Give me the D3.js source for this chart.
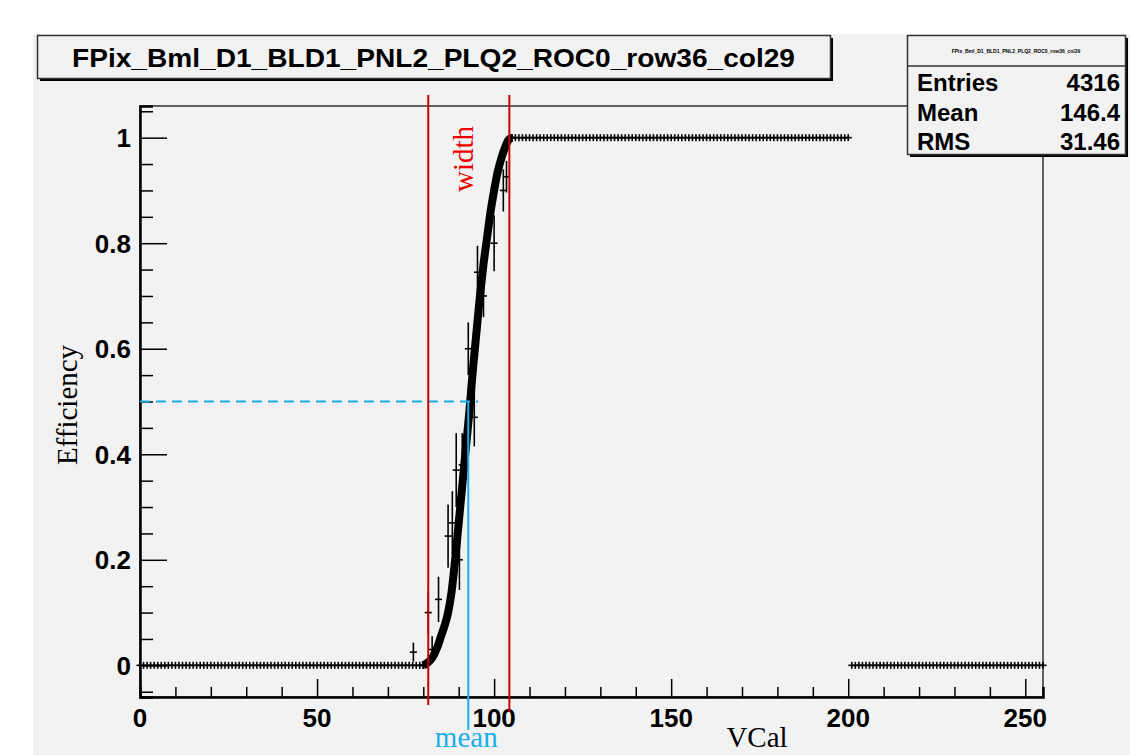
<!DOCTYPE html>
<html>
<head>
<meta charset="utf-8">
<script src="https://cdn.jsdelivr.net/npm/d3@7"></script>
<style>
    body { margin: 0; background: #ffffff; }
    svg { display: block; }
    .tick-label { font-family: "Liberation Sans", Arial, sans-serif; font-weight: bold; font-size: 26px; fill: #000; }
    .serif { font-family: "Liberation Serif", "Times New Roman", serif; font-size: 29px; }
</style>
</head>
<body>
<div id="chart"></div>
<script>
const histTitle = "FPix_Bml_D1_BLD1_PNL2_PLQ2_ROC0_row36_col29";
const statNames = ["Entries", "Mean", "RMS"];
const statValues = ["4316", "146.4", "31.46"];

// flat stretches, every bin reads the same efficiency
const plateaus = [
    { from: 0, to: 80, eff: 0 },
    { from: 105, to: 200, eff: 1 },
    { from: 201, to: 255, eff: 0 }
];

// turn-on region (thick band of overlapping points)
const riseVcal = [80, 81, 82, 83, 84, 85, 86, 87, 88, 89, 90, 91, 92, 93, 94, 95, 96, 97, 98, 99, 100, 101, 102, 103, 104, 105];
const riseEff = [0.0, 0.004, 0.01, 0.02, 0.035, 0.055, 0.075, 0.1, 0.14, 0.2, 0.27, 0.34, 0.41, 0.48, 0.56, 0.63, 0.7, 0.76, 0.81, 0.86, 0.9, 0.935, 0.96, 0.98, 0.995, 1.0];

// scattered points with larger error bars
const outVcal = [77.2, 81.4, 82.5, 84.3, 87.0, 88.2, 89.3, 90.2, 91.0, 92.7, 94.4, 95.3, 97.0, 100.0, 102.6, 103.5];
const outEff = [0.025, 0.10, 0.03, 0.125, 0.245, 0.27, 0.37, 0.20, 0.38, 0.60, 0.47, 0.745, 0.70, 0.80, 0.90, 0.926];
const outErr = [0.018, 0.04, 0.025, 0.043, 0.06, 0.06, 0.07, 0.057, 0.06, 0.05, 0.055, 0.05, 0.04, 0.053, 0.04, 0.03];

const meanVcal = 92.7;
const widthLow = 81.4;
const widthHigh = 104.3;

const xMajor = [0, 50, 100, 150, 200, 250];
const yMajor = [0, 0.2, 0.4, 0.6, 0.8, 1];

const svgWidth = 1130;
const svgHeight = 755;
const margin = { top: 106, right: 87, bottom: 58, left: 140 };
const width = svgWidth - margin.left - margin.right;
const height = svgHeight - margin.top - margin.bottom;

const svg = d3.select("#chart")
    .append("svg")
    .attr("width", svgWidth)
    .attr("height", svgHeight);

// pad background
svg.append("rect")
    .attr("x", 33).attr("y", 34)
    .attr("width", svgWidth - 33).attr("height", svgHeight - 34)
    .attr("fill", "#f2f2f2");

const g = svg.append("g")
    .attr("transform", "translate(" + margin.left + "," + margin.top + ")");

const xScale = d3.scaleLinear().domain([0, 255]).range([0, width]);
const yScale = d3.scaleLinear().domain([-0.06, 1.06]).range([height, 0]);

// frame
g.append("rect")
    .attr("width", width).attr("height", height)
    .attr("fill", "none").attr("stroke", "#000").attr("stroke-width", 1.2);

// x axis ticks (ROOT style, pointing inside)
const xAxis = d3.axisBottom(xScale)
    .tickValues(d3.range(0, 256, 10))
    .tickSize(-10)
    .tickFormat("");
g.append("g")
    .attr("transform", "translate(0," + height + ")")
    .call(xAxis)
    .call(s => s.select(".domain").attr("stroke-width", 2.5))
    .call(s => s.selectAll(".tick line")
        .attr("stroke-width", 1.5)
        .attr("y2", d => d % 50 === 0 ? -18 : -10));

g.selectAll(".xlab")
    .data(xMajor)
    .enter().append("text")
    .attr("class", "tick-label")
    .attr("x", d => xScale(d))
    .attr("y", height + 30)
    .attr("text-anchor", "middle")
    .text(d => d);

// y axis
const yMinor = d3.range(-5, 106, 5).map(v => v / 100);
const yAxis = d3.axisLeft(yScale)
    .tickValues(yMinor)
    .tickSize(-13)
    .tickFormat("");
g.append("g")
    .call(yAxis)
    .call(s => s.select(".domain").attr("stroke-width", 2.5))
    .call(s => s.selectAll(".tick line")
        .attr("stroke-width", 1.5)
        .attr("x2", d => Math.abs(Math.round(d * 100) % 20) === 0 ? 27 : 13));

g.selectAll(".ylab")
    .data(yMajor)
    .enter().append("text")
    .attr("class", "tick-label")
    .attr("x", -9)
    .attr("y", d => yScale(d))
    .attr("dy", "0.36em")
    .attr("text-anchor", "end")
    .text(d => d === 0 || d === 1 ? d : d.toFixed(1));

// axis titles
svg.append("text")
    .attr("class", "serif")
    .attr("transform", "translate(77,405) rotate(-90)")
    .attr("text-anchor", "middle")
    .text("Efficiency");

svg.append("text")
    .attr("class", "serif")
    .attr("x", 757).attr("y", 747)
    .attr("text-anchor", "middle")
    .text("VCal");

// data points: flat plateaus
const flatPoints = [];
plateaus.forEach(p => {
    d3.range(p.from, p.to + 1).forEach(v => flatPoints.push({ x: v, y: p.eff }));
});
const risePoints = riseVcal.map((v, i) => ({ x: v, y: riseEff[i] }));
const outPoints = outVcal.map((v, i) => ({ x: v, y: outEff[i], e: outErr[i] }));

const markerHalf = 3.5;

function drawPoints(pts, cls, sw) {
    const grp = g.append("g").attr("class", cls)
        .attr("stroke", "#000").attr("stroke-width", sw);
    grp.selectAll("line.h")
        .data(pts)
        .enter().append("line")
        .attr("class", "h")
        .attr("x1", d => Math.min(xScale(d.x - 0.5), xScale(d.x) - markerHalf))
        .attr("x2", d => Math.max(xScale(d.x + 0.5), xScale(d.x) + markerHalf))
        .attr("y1", d => yScale(d.y))
        .attr("y2", d => yScale(d.y));
    grp.selectAll("line.v")
        .data(pts)
        .enter().append("line")
        .attr("class", "v")
        .attr("x1", d => xScale(d.x))
        .attr("x2", d => xScale(d.x))
        .attr("y1", d => Math.min(yScale(d.y + (d.e || 0)), yScale(d.y) - markerHalf))
        .attr("y2", d => Math.max(yScale(d.y - (d.e || 0)), yScale(d.y) + markerHalf));
}

drawPoints(flatPoints, "flat", 1.6);

// thick band of the turn-on
const line = d3.line()
    .x(d => xScale(d.x))
    .y(d => yScale(d.y))
    .curve(d3.curveMonotoneX);
g.append("path")
    .datum(risePoints)
    .attr("d", line)
    .attr("fill", "none")
    .attr("stroke", "#000")
    .attr("stroke-width", 8);

drawPoints(risePoints, "rise", 2);
drawPoints(outPoints, "out", 1.6);

// marker lines
const red = "#cc0000";
const blue = "#1aaee8";

g.append("line")
    .attr("x1", 0).attr("x2", xScale(meanVcal + 2.8))
    .attr("y1", yScale(0.5)).attr("y2", yScale(0.5))
    .attr("stroke", blue).attr("stroke-width", 2)
    .attr("stroke-dasharray", "10,6");

g.append("line")
    .attr("x1", xScale(meanVcal)).attr("x2", xScale(meanVcal))
    .attr("y1", yScale(0.5)).attr("y2", 730 - margin.top)
    .attr("stroke", blue).attr("stroke-width", 2);

[widthLow, widthHigh].forEach((v, i) => {
    g.append("line")
        .attr("x1", xScale(v)).attr("x2", xScale(v))
        .attr("y1", 95 - margin.top).attr("y2", (i === 0 ? 705 : 712) - margin.top)
        .attr("stroke", red).attr("stroke-width", 2);
});

svg.append("text")
    .attr("class", "serif")
    .attr("x", margin.left + xScale(meanVcal) - 2).attr("y", 747)
    .attr("text-anchor", "middle")
    .attr("fill", blue)
    .text("mean");

svg.append("text")
    .attr("class", "serif")
    .attr("transform", "translate(473,159) rotate(-90)")
    .attr("text-anchor", "middle")
    .attr("fill", "#ee0000")
    .text("width");

// title box
svg.append("rect")
    .attr("x", 40).attr("y", 38).attr("width", 793).attr("height", 43)
    .attr("fill", "#000");
svg.append("rect")
    .attr("x", 37.5).attr("y", 35.5).attr("width", 793).attr("height", 43)
    .attr("fill", "#f2f2f2").attr("stroke", "#333").attr("stroke-width", 1.5);
svg.append("text")
    .attr("x", 72).attr("y", 67)
    .attr("textLength", 723)
    .attr("lengthAdjust", "spacingAndGlyphs")
    .style("font-family", "'Liberation Sans', Arial, sans-serif")
    .style("font-weight", "bold")
    .style("font-size", "25px")
    .text(histTitle);

// stats box
svg.append("rect")
    .attr("x", 910).attr("y", 38).attr("width", 218).attr("height", 119)
    .attr("fill", "#000");
svg.append("rect")
    .attr("x", 907.5).attr("y", 35.5).attr("width", 218).attr("height", 119)
    .attr("fill", "#f2f2f2").attr("stroke", "#333").attr("stroke-width", 1.5);
svg.append("line")
    .attr("x1", 907.5).attr("x2", 1125.5)
    .attr("y1", 66).attr("y2", 66)
    .attr("stroke", "#333").attr("stroke-width", 1.5);
svg.append("text")
    .attr("x", 1016).attr("y", 53)
    .attr("text-anchor", "middle")
    .style("font-family", "'Liberation Sans', Arial, sans-serif")
    .style("font-weight", "bold")
    .style("font-size", "5px")
    .text(histTitle);

const statRows = svg.selectAll(".stat")
    .data(statNames)
    .enter().append("g")
    .attr("class", "stat")
    .attr("transform", (d, i) => "translate(0," + (91 + i * 29.5) + ")");
statRows.append("text")
    .attr("x", 917)
    .style("font-family", "'Liberation Sans', Arial, sans-serif")
    .style("font-weight", "bold")
    .style("font-size", "24px")
    .text(d => d);
statRows.append("text")
    .attr("x", 1120)
    .attr("text-anchor", "end")
    .style("font-family", "'Liberation Sans', Arial, sans-serif")
    .style("font-weight", "bold")
    .style("font-size", "24px")
    .text((d, i) => statValues[i]);
</script>
</body>
</html>
